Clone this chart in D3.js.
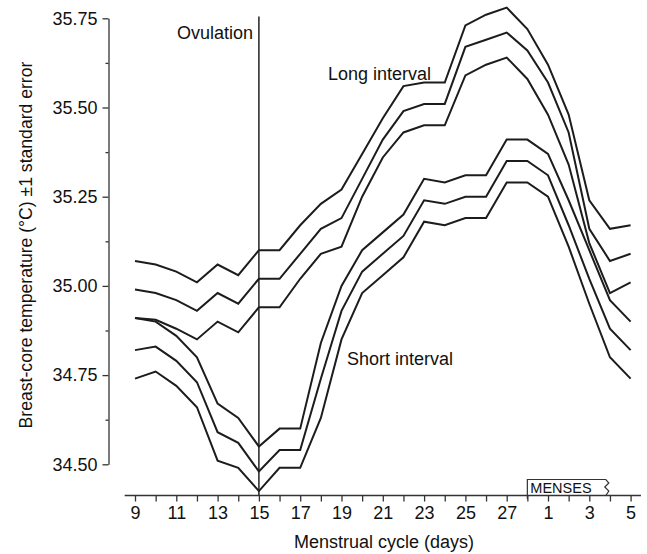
<!DOCTYPE html>
<html>
<head>
<meta charset="utf-8">
<script src="https://cdn.jsdelivr.net/npm/d3@7"></script>
<style>
  html, body { margin: 0; padding: 0; background: #fff; }
  svg text { font-family: "Liberation Sans", Arial, sans-serif; fill: #111; }
</style>
</head>
<body>
<div id="chart"></div>
<script>
// days of the cycle, day 28 is followed by the menses days
const days = [9, 10, 11, 12, 13, 14, 15, 16, 17, 18, 19, 20, 21, 22, 23, 24, 25, 26, 27, 28, 1, 2, 3, 4, 5];
const yTicks = [34.50, 34.75, 35.00, 35.25, 35.50, 35.75];
const yMinorTicks = [34.625, 34.875, 35.125, 35.375, 35.625];

// long interval: mean +/- 1 SE
const longUpper = [35.07, 35.06, 35.04, 35.01, 35.06, 35.03, 35.10, 35.10, 35.17, 35.23, 35.27, 35.37, 35.47, 35.56, 35.57, 35.57, 35.73, 35.76, 35.78, 35.72, 35.62, 35.48, 35.24, 35.16, 35.17];
const longMean  = [34.99, 34.98, 34.96, 34.93, 34.98, 34.95, 35.02, 35.02, 35.09, 35.16, 35.19, 35.30, 35.41, 35.49, 35.51, 35.51, 35.67, 35.69, 35.71, 35.66, 35.57, 35.43, 35.16, 35.07, 35.09];
const longLower = [34.91, 34.905, 34.88, 34.85, 34.90, 34.87, 34.94, 34.94, 35.02, 35.09, 35.11, 35.25, 35.36, 35.43, 35.45, 35.45, 35.59, 35.62, 35.64, 35.58, 35.48, 35.34, 35.12, 34.98, 35.01];

// short interval: mean +/- 1 SE
const shortUpper = [34.91, 34.90, 34.86, 34.80, 34.67, 34.63, 34.55, 34.60, 34.60, 34.84, 35.00, 35.10, 35.15, 35.20, 35.30, 35.29, 35.31, 35.31, 35.41, 35.41, 35.37, 35.24, 35.10, 34.96, 34.90];
const shortMean  = [34.82, 34.83, 34.79, 34.73, 34.59, 34.56, 34.48, 34.54, 34.54, 34.74, 34.93, 35.04, 35.09, 35.14, 35.24, 35.23, 35.25, 35.25, 35.35, 35.35, 35.31, 35.17, 35.02, 34.88, 34.82];
const shortLower = [34.74, 34.76, 34.72, 34.66, 34.51, 34.49, 34.425, 34.49, 34.49, 34.63, 34.85, 34.98, 35.03, 35.08, 35.18, 35.17, 35.19, 35.19, 35.29, 35.29, 35.25, 35.11, 34.95, 34.80, 34.74];

const ovulationDay = 6;          // index of day 15
const mensesFrom = 19, mensesTo = 22.8;  // index range of the MENSES marker

const width = 647, height = 554;

const svg = d3.select('#chart').append('svg')
              .attr('width', width)
              .attr('height', height);

const x = d3.scaleLinear()
            .domain([0, days.length - 1])
            .range([135, 630.6]);

const y = d3.scaleLinear()
            .domain([34.5, 35.75])
            .range([464.3, 18.3]);

drawAxes();
drawSeries();
drawLabels();

function drawAxes() {
  // y axis, major + minor ticks
  const ya = svg.append('g')
                .attr('transform', 'translate(108.5,0)')
                .call(d3.axisLeft(y)
                        .tickValues(yTicks)
                        .tickFormat(d3.format('.2f'))
                        .tickSize(6)
                        .tickSizeOuter(0)
                        .tickPadding(5));
  ya.selectAll('text').attr('font-size', 18);

  svg.append('g')
     .attr('transform', 'translate(108.5,0)')
     .call(d3.axisLeft(y)
             .tickValues(yMinorTicks)
             .tickFormat('')
             .tickSize(3)
             .tickSizeOuter(0))
     .select('.domain').remove();

  // x axis
  const xa = svg.append('g')
                .attr('transform', 'translate(0,495.5)')
                .call(d3.axisBottom(x)
                        .tickValues(d3.range(days.length))
                        .tickFormat(i => i % 2 === 0 ? days[i] : '')
                        .tickSize(6)
                        .tickPadding(5));
  xa.select('.domain').remove();
  xa.selectAll('text').attr('font-size', 18);
  xa.append('line')
    .attr('x1', x(-0.5))
    .attr('x2', x(24.5))
    .attr('stroke', 'currentColor');

  svg.selectAll('.tick line, .domain').attr('stroke', '#333').attr('stroke-width', 1.3);
  xa.select('line:last-child').attr('stroke', '#333').attr('stroke-width', 1.3);

  // menses marker
  const x0 = x(mensesFrom), x1 = x(mensesTo);
  svg.append('path')
     .attr('d', `M${x0},499 L${x0},479.5 L${x1},479.5 L${x1 + 3},483 L${x1 - 1},487 L${x1 + 3},491 L${x1},495.5`)
     .attr('fill', 'none')
     .attr('stroke', '#333')
     .attr('stroke-width', 1.2);
  svg.append('text')
     .attr('x', x0 + 3)
     .attr('y', 492.5)
     .attr('font-size', 14.5)
     .text('MENSES');

  // ovulation line
  svg.append('line')
     .attr('x1', x(ovulationDay))
     .attr('x2', x(ovulationDay))
     .attr('y1', 16.5)
     .attr('y2', 495.5)
     .attr('stroke', '#222')
     .attr('stroke-width', 1.5);
}

function drawSeries() {
  const line = d3.line()
                 .x((d, i) => x(i))
                 .y(d => y(d));

  const series = [longUpper, longMean, longLower, shortUpper, shortMean, shortLower];
  svg.append('g')
     .selectAll('path')
     .data(series)
     .enter().append('path')
     .attr('d', line)
     .attr('fill', 'none')
     .attr('stroke', '#1c1c1c')
     .attr('stroke-width', 2)
     .attr('stroke-linejoin', 'miter');
}

function drawLabels() {
  svg.append('text')
     .attr('x', 253)
     .attr('y', 38.5)
     .attr('text-anchor', 'end')
     .attr('font-size', 18)
     .text('Ovulation');

  svg.append('text')
     .attr('x', 328)
     .attr('y', 80)
     .attr('font-size', 18)
     .text('Long interval');

  svg.append('text')
     .attr('x', 347)
     .attr('y', 364.5)
     .attr('font-size', 18)
     .text('Short interval');

  svg.append('text')
     .attr('x', 384)
     .attr('y', 548)
     .attr('text-anchor', 'middle')
     .attr('font-size', 18)
     .text('Menstrual cycle (days)');

  svg.append('text')
     .attr('transform', 'translate(32,245) rotate(-90)')
     .attr('text-anchor', 'middle')
     .attr('font-size', 17.6)
     .text('Breast-core temperature (°C) ±1 standard error');
}
</script>
</body>
</html>
